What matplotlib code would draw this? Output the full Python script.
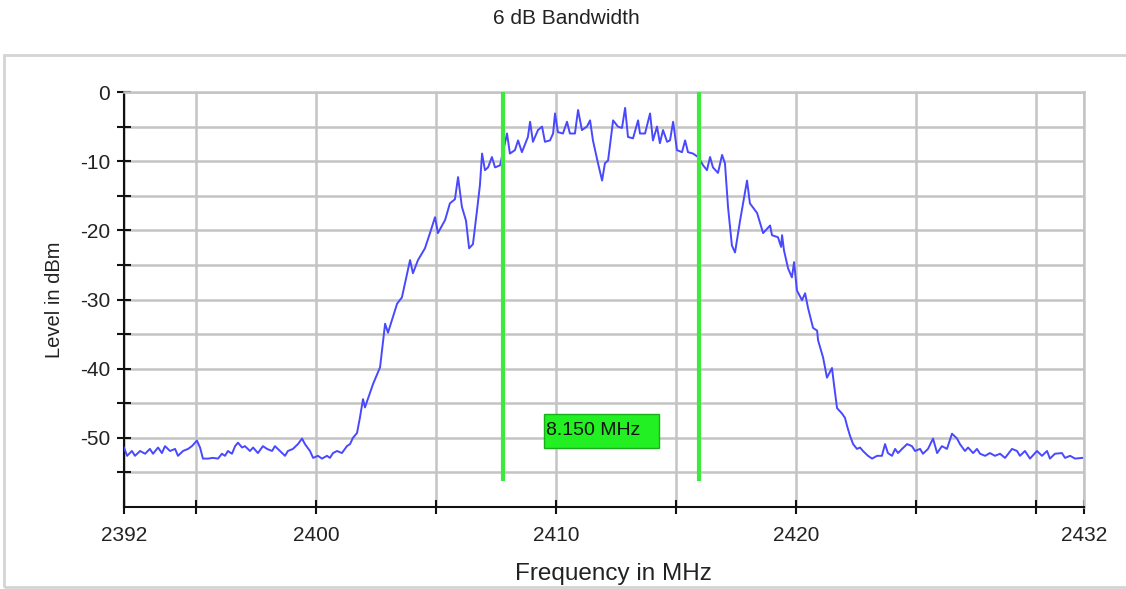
import numpy as np
import matplotlib.pyplot as plt
from matplotlib.patches import Rectangle
from matplotlib.ticker import FixedLocator

# spectrum trace (MHz, dBm)
freq = [2392.00, 2392.13, 2392.33, 2392.46, 2392.67, 2392.88, 2393.08, 2393.21, 2393.42, 2393.58,
        2393.71, 2393.92, 2394.13, 2394.25, 2394.46, 2394.67, 2394.83, 2395.04, 2395.17, 2395.29,
        2395.50, 2395.71, 2395.92, 2396.08, 2396.21, 2396.33, 2396.50, 2396.63, 2396.75, 2396.92,
        2397.04, 2397.25, 2397.38, 2397.58, 2397.79, 2397.96, 2398.17, 2398.29, 2398.50, 2398.71,
        2398.83, 2399.04, 2399.25, 2399.42, 2399.54, 2399.75, 2399.88, 2400.08, 2400.25, 2400.46,
        2400.58, 2400.71, 2400.88, 2401.08, 2401.29, 2401.42, 2401.54, 2401.71,
        2401.83, 2401.96, 2402.04, 2402.38, 2402.67, 2402.88, 2403.00, 2403.38, 2403.58, 2403.92,
        2404.04, 2404.25, 2404.54, 2404.75, 2404.96, 2405.08, 2405.38, 2405.58, 2405.79, 2405.92,
        2406.08, 2406.25, 2406.38, 2406.54, 2406.71, 2406.83, 2406.92, 2407.04, 2407.17, 2407.33,
        2407.46, 2407.67,
        2407.96, 2408.08, 2408.29, 2408.42, 2408.58, 2408.83, 2408.92, 2409.04, 2409.25, 2409.42,
        2409.54, 2409.75, 2409.88, 2409.96, 2410.08, 2410.29, 2410.46, 2410.58, 2410.79, 2410.92,
        2411.08, 2411.29, 2411.42, 2411.54, 2411.75, 2411.92, 2412.04, 2412.17, 2412.38, 2412.58,
        2412.75, 2412.88, 2413.00, 2413.21, 2413.42, 2413.50, 2413.71, 2413.92, 2414.04, 2414.21,
        2414.33, 2414.46, 2414.63, 2414.75, 2414.88, 2415.04, 2415.25, 2415.38, 2415.50, 2415.71,
        2415.92, 2416.13, 2416.29, 2416.42, 2416.54, 2416.75, 2416.92, 2417.04, 2417.17, 2417.33,
        2417.46, 2417.67, 2417.96, 2418.08, 2418.38, 2418.63, 2418.92, 2419.00, 2419.25, 2419.38,
        2419.42, 2419.50, 2419.67, 2419.83, 2419.92, 2420.04, 2420.25, 2420.38, 2420.50, 2420.71,
        2420.88, 2420.92, 2421.13, 2421.29, 2421.50, 2421.58, 2421.71, 2421.92, 2422.04, 2422.13,
        2422.25, 2422.38, 2422.54, 2422.67, 2422.79, 2423.00, 2423.17, 2423.38, 2423.58, 2423.71,
        2423.83, 2424.00, 2424.13, 2424.25, 2424.42, 2424.63, 2424.83, 2424.96, 2425.17, 2425.29,
        2425.50, 2425.71, 2425.88, 2426.08, 2426.29, 2426.50, 2426.71, 2426.83, 2427.04, 2427.17,
        2427.38, 2427.54, 2427.67, 2427.88, 2428.08, 2428.29, 2428.50, 2428.71, 2429.00, 2429.21,
        2429.33, 2429.54, 2429.75, 2430.04, 2430.25, 2430.46, 2430.58, 2430.79, 2431.08, 2431.21,
        2431.42, 2431.63, 2431.92]
level = [-51.4, -52.6, -51.9, -52.6, -51.9, -52.3, -51.6, -52.3, -51.4, -52.2,
         -51.2, -51.9, -51.6, -52.6, -51.9, -51.6, -51.2, -50.4, -51.4, -53.0,
         -53.0, -52.9, -53.0, -52.3, -52.6, -51.9, -52.3, -51.2, -50.7, -51.4,
         -51.2, -51.9, -51.4, -52.2, -51.2, -51.6, -51.9, -51.2, -51.9, -52.6,
         -51.9, -51.6, -50.9, -50.1, -50.9, -51.9, -52.9, -52.6, -53.0, -52.6,
         -52.9, -52.2, -51.9, -52.2, -51.2, -50.9, -50.0, -49.3,
         -47.1, -44.4, -45.6, -42.2, -39.8, -33.5, -34.8, -30.6, -29.7, -24.3,
         -26.2, -24.3, -22.6, -20.4, -18.1, -20.4, -18.5, -16.1, -15.5, -12.3,
         -16.6, -18.6, -22.6, -22.0, -17.1, -13.5, -8.9, -11.3, -10.9, -9.4,
         -10.9, -10.6,
         -6.0, -8.9, -8.4, -7.0, -8.7, -6.5, -4.3, -7.2, -5.5, -5.0,
         -7.2, -7.0, -6.0, -3.1, -5.8, -6.0, -4.3, -6.0, -6.0, -2.6,
         -5.5, -5.0, -4.1, -7.0, -10.3, -12.8, -10.3, -9.9, -4.1, -5.0,
         -5.2, -2.3, -6.5, -6.7, -4.1, -6.0, -6.0, -3.1, -7.0, -5.0,
         -7.4, -5.5, -7.2, -7.0, -4.3, -8.4, -8.7, -7.0, -8.7, -8.9,
         -9.4, -10.6, -11.3, -9.4, -10.9, -11.7, -9.1, -10.3, -16.7, -22.2,
         -23.2, -18.6, -12.8, -16.1, -17.5, -20.4, -19.3, -20.7, -21.0, -22.4,
         -20.7, -22.9, -25.5, -26.8, -24.6, -28.7, -30.1, -29.1, -31.2, -34.1,
         -34.5, -35.9, -38.4, -41.3, -39.9, -42.2, -45.7, -46.5, -47.1, -48.3,
         -49.7, -50.9, -51.6, -51.4, -51.9, -52.6, -53.0, -52.6, -52.6, -50.9,
         -52.2, -52.6, -51.6, -52.2, -51.6, -50.9, -51.2, -51.9, -51.6, -52.3,
         -51.6, -50.1, -52.2, -51.2, -51.6, -49.4, -50.1, -50.9, -51.9, -51.4,
         -52.2, -51.6, -52.3, -52.6, -52.2, -52.6, -52.3, -52.9, -51.6, -51.9,
         -52.6, -51.9, -53.0, -51.9, -52.6, -51.9, -53.0, -52.3, -52.2, -52.9,
         -52.6, -53.0, -52.9]

# 6 dB bandwidth markers
marker_lo = 2407.80
marker_hi = 2415.95
bw_label = "8.150 MHz"

x_labels = [2392, 2400, 2410, 2420, 2432]
x_minor = [2395, 2405, 2415, 2425, 2430]
y_labels = [0, -10, -20, -30, -40, -50]
y_minor = [-5, -15, -25, -35, -45, -55]

plt.rcParams['font.family'] = ['Liberation Sans', 'DejaVu Sans']
plt.rcParams['axes.unicode_minus'] = False

fig = plt.figure(figsize=(11.26, 5.89), dpi=100)
ax = fig.add_axes([0.1101, 0.1392, 0.8526, 0.7046])

# outer light frame and title
fig.patches.append(Rectangle((0.0036, 0.0034), 1.2, 0.9032, transform=fig.transFigure,
                             fill=False, edgecolor='#d4d4d4', lw=2))
fig.text(0.503, 0.969, "6 dB Bandwidth", ha='center', va='center', fontsize=15, color='#222222')

ax.plot(freq, level, color='#4848ff', lw=1.4, zorder=3)

for m in (marker_lo, marker_hi):
    ax.plot([m, m], [0, -56.2], color='#3ee83e', lw=3, zorder=4, solid_capstyle='butt')

ax.add_patch(Rectangle((2409.5, -51.4), 4.8, 4.9, facecolor='#22f022',
                       edgecolor='#18b018', lw=1, zorder=5))
ax.text(2409.6, -49.0, bw_label, ha='left', va='center', fontsize=14, color='#111111', zorder=6)

ax.set_xlim(2392, 2432)
ax.set_ylim(-60, 0)
ax.xaxis.set_major_locator(FixedLocator(x_labels))
ax.xaxis.set_minor_locator(FixedLocator(x_minor))
ax.yaxis.set_major_locator(FixedLocator(y_labels))
ax.yaxis.set_minor_locator(FixedLocator(y_minor))

ax.grid(True, which='both', color='#c4c4c4', lw=1.8, zorder=0)
ax.set_axisbelow(True)

ax.tick_params(which='both', direction='inout', length=10, width=1.5, color='#111111',
               labelsize=15, labelcolor='#222222')
ax.tick_params(axis='x', pad=9)
ax.tick_params(axis='y', pad=5)

for s in ('left', 'bottom'):
    ax.spines[s].set_linewidth(1.5)
    ax.spines[s].set_color('#111111')
for s in ('top', 'right'):
    ax.spines[s].set_linewidth(1.8)
    ax.spines[s].set_color('#c4c4c4')

ax.set_xlabel("Frequency in MHz", fontsize=17.5, color='#222222')
ax.xaxis.set_label_coords(0.51, -0.135)
ax.set_ylabel("Level in dBm", fontsize=14.5, color='#222222')
ax.yaxis.set_label_coords(-0.062, 0.5)

fig.savefig("out.png", dpi=100)
